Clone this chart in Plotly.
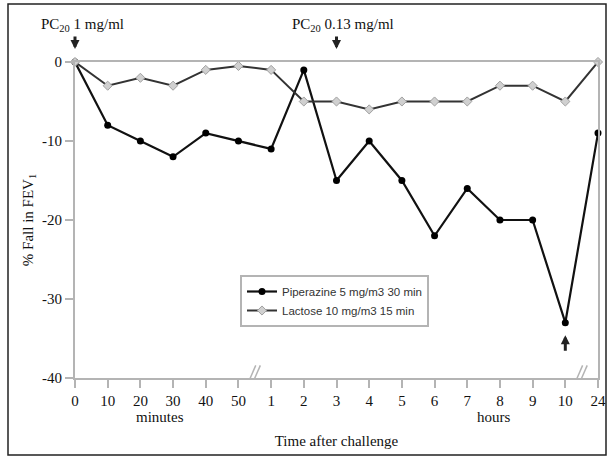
import plotly.graph_objects as go

tick_labels = ["0", "10", "20", "30", "40", "50", "1", "2", "3", "4", "5",
               "6", "7", "8", "9", "10", "24"]
piperazine = [0, -8, -10, -12, -9, -10, -11, -1, -15, -10, -15, -22, -16,
              -20, -20, -33, -9]
lactose = [0, -3, -2, -3, -1, -0.5, -1, -5, -5, -6, -5, -5, -5, -3, -3, -5, 0]
y_ticks = [0, -10, -20, -30, -40]

xs = list(range(len(tick_labels)))
SERIF = "Liberation Serif, Times New Roman, serif"
GRAY = "#b4b4b4"

L, R, T, B = 75, 12, 62, 79
PW, PH = 610 - L - R, 457 - T - B


def px(xp):
    return (xp - L) / PW


def py(yp):
    return (457 - B - yp) / PH


fig = go.Figure()
fig.add_trace(go.Scatter(
    x=xs, y=piperazine, mode="lines+markers",
    name="Piperazine 5 mg/m3 30 min",
    line=dict(color="#111111", width=2.2),
    marker=dict(symbol="circle", size=7, color="#000000"),
    cliponaxis=False))
fig.add_trace(go.Scatter(
    x=xs, y=lactose, mode="lines+markers",
    name="Lactose 10 mg/m3 15 min",
    line=dict(color="#333333", width=2),
    marker=dict(symbol="diamond", size=7, color="#d0d0d0",
                line=dict(color="#a0a0a0", width=1)),
    cliponaxis=False))

annotations = [
    dict(x=xs[0], y=py(25), xref="x", yref="paper", text="PC<sub>20</sub> 1 mg/ml",
         showarrow=False, xanchor="left", yanchor="middle", xshift=-36,
         font=dict(family=SERIF, size=15, color="#111")),
    dict(x=xs[8], y=py(25), xref="x", yref="paper", text="PC<sub>20</sub> 0.13 mg/ml",
         showarrow=False, xanchor="center", yanchor="middle", xshift=6,
         font=dict(family=SERIF, size=15, color="#111")),
    dict(x=xs[0], y=py(49), xref="x", yref="paper", ax=0, ay=-14, text="",
         showarrow=True, arrowhead=2, arrowsize=0.6, arrowwidth=3, arrowcolor="#222"),
    dict(x=xs[8], y=py(49), xref="x", yref="paper", ax=0, ay=-14, text="",
         showarrow=True, arrowhead=2, arrowsize=0.6, arrowwidth=3, arrowcolor="#222"),
    dict(x=xs[15], y=-34.6, xref="x", yref="y", ax=0, ay=17, text="",
         showarrow=True, arrowhead=2, arrowsize=0.6, arrowwidth=3, arrowcolor="#222"),
    dict(x=2.6, y=py(417), xref="x", yref="paper", text="minutes", showarrow=False,
         yanchor="middle", font=dict(family=SERIF, size=15, color="#111")),
    dict(x=12.8, y=py(417), xref="x", yref="paper", text="hours", showarrow=False,
         yanchor="middle", font=dict(family=SERIF, size=15, color="#111")),
]

shapes = [
    dict(type="rect", xref="paper", yref="paper",
         x0=px(8), x1=px(606), y0=py(455), y1=py(4),
         line=dict(color="#222", width=1.5), fillcolor="rgba(0,0,0,0)", layer="below"),
]
for bx in (5.5, 15.5):
    for dx in (-0.07, 0.07):
        shapes.append(dict(type="line", xref="x", yref="y",
                           x0=bx + dx - 0.1, x1=bx + dx + 0.1, y0=-40.3, y1=-38.4,
                           line=dict(color=GRAY, width=1.5)))

fig.update_layout(
    width=610, height=457,
    margin=dict(l=L, r=R, t=T, b=B, autoexpand=False),
    paper_bgcolor="white", plot_bgcolor="white",
    showlegend=True,
    legend=dict(x=px(240), y=py(275), xanchor="left", yanchor="top",
                bordercolor=GRAY, borderwidth=2, bgcolor="white",
                font=dict(family="Liberation Sans, Arial, sans-serif", size=11.5, color="#333"),
                itemwidth=30, tracegroupgap=0),
    font=dict(family=SERIF, size=15, color="#111"),
    xaxis=dict(range=[0, 16], tickmode="array", tickvals=xs, ticktext=tick_labels,
               showgrid=False, zeroline=False, showline=True, mirror=True,
               linecolor=GRAY, linewidth=2, ticks="outside", ticklen=8,
               tickcolor=GRAY, tickwidth=2, automargin=False,
               title=dict(text="Time after challenge", standoff=27,
                          font=dict(family=SERIF, size=15))),
    yaxis=dict(range=[-40, 0], tickmode="array", tickvals=y_ticks,
               ticktext=[str(v) for v in y_ticks],
               showgrid=False, zeroline=False, showline=True, mirror=True,
               linecolor=GRAY, linewidth=2, ticks="outside", ticklen=8,
               tickcolor=GRAY, tickwidth=2, automargin=False,
               title=dict(text="% Fall in FEV<sub>1</sub>", standoff=5,
                          font=dict(family=SERIF, size=15))),
    annotations=annotations, shapes=shapes,
)

fig.write_html("out.html", config={"displayModeBar": False},
               post_script="document.body.style.margin='0';document.body.style.overflow='hidden';")
